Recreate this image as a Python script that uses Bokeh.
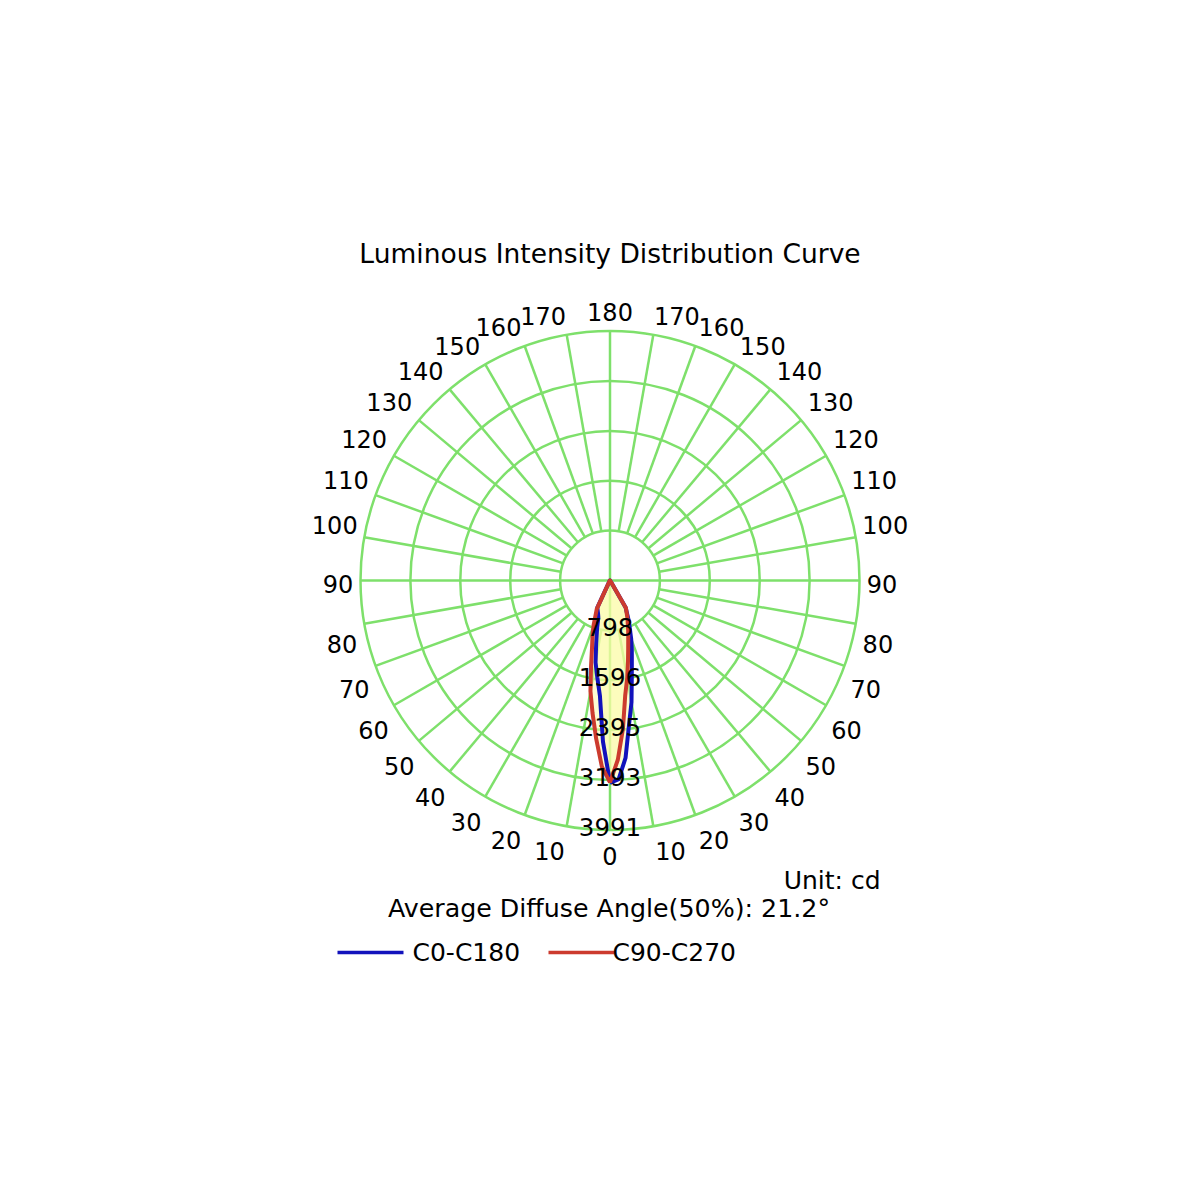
import numpy as np
from bokeh.plotting import figure
from bokeh.embed import file_html
from bokeh.resources import INLINE
from bokeh.core.properties import value

# ---------------- data ----------------
GAMMA = [0, 2.5, 5, 7.5, 10, 12.5, 15, 17.5, 20, 25, 30, 35, 40, 50, 60, 70, 80, 90, 120, 150, 180]
C0   = [3240, 3180, 2850, 2330, 1980, 1610, 1350, 1160, 990, 710, 500, 20, 12, 8, 5, 3, 2, 0, 0, 0, 0]
C180 = [3230, 2580, 1850, 1560, 1330, 1020, 800, 620, 560, 480, 30, 15, 10, 6, 4, 2, 1, 0, 0, 0, 0]
C90  = [3230, 2870, 2380, 1860, 1584, 1330, 1125, 970, 850, 660, 510, 20, 12, 8, 5, 3, 2, 0, 0, 0, 0]
C270 = [3230, 2980, 2540, 2140, 1800, 1400, 1110, 930, 770, 500, 30, 15, 10, 6, 4, 2, 1, 0, 0, 0, 0]
RING_VALUES = [798, 1596, 2395, 3193, 3991]
ANGLE_TICKS = list(range(0, 190, 10))
TITLE = "Luminous Intensity Distribution Curve"
UNIT = "Unit: cd"
DIFFUSE = "Average Diffuse Angle(50%): 21.2°"
SERIES = ["C0-C180", "C90-C270"]

# ---------------- style / layout ----------------
GREEN = "#7ee06b"
BLUE = "#1212bc"
RED = "#cc3b2e"
FILL = "#fbfba8"
FONT = value("DejaVu Sans")
R = 249.5
IMAX = RING_VALUES[-1]
W = H = 1184
OFF = 0.0
CX, CY = 609.5, 580.0


def rad(v):
    return np.asarray(v, dtype=float) / IMAX * R


p = figure(width=W, height=H, x_range=(OFF - CX, OFF + W - CX), y_range=(CY - OFF - H, CY - OFF),
           x_axis_type=None, y_axis_type=None, toolbar_location=None,
           output_backend="svg", min_border=0)
p.grid.visible = False
p.outline_line_color = None
p.background_fill_color = "white"
p.border_fill_color = "white"

# ---------------- polar grid ----------------
ring_r = rad(RING_VALUES)
p.circle(x=[0] * len(ring_r), y=[0] * len(ring_r), radius=list(ring_r),
         fill_color=None, line_color=GREEN, line_width=2.5)
sx, sy = [], []
for a in range(0, 360, 10):
    t = np.radians(a)
    r0 = 0.0 if a % 90 == 0 else ring_r[0]
    sx.append([r0 * np.sin(t), R * np.sin(t)])
    sy.append([-r0 * np.cos(t), -R * np.cos(t)])
p.multi_line(xs=sx, ys=sy, line_color=GREEN, line_width=2.5)

# ---------------- curves ----------------
g = np.radians(GAMMA)


def curve(right, left):
    rr, rl = rad(right), rad(left)
    x = np.concatenate([rr * np.sin(g), (-rl * np.sin(g))[::-1]])
    y = np.concatenate([-rr * np.cos(g), (-rl * np.cos(g))[::-1]])
    return x, y


bx, by = curve(C0, C180)
rx, ry = curve(C90, C270)
p.patch(bx, by, fill_color=FILL, fill_alpha=0.5, line_color=None)
p.patch(rx, ry, fill_color=FILL, fill_alpha=0.5, line_color=None)
p.line(np.append(bx, bx[0]), np.append(by, by[0]), line_color=BLUE, line_width=4, line_join="round")
p.line(np.append(rx, rx[0]), np.append(ry, ry[0]), line_color=RED, line_width=4, line_join="round")

# ---------------- angle labels ----------------
RL = 272.0
lx, ly, lt = [], [], []
for side in (-1, 1):
    for a in ANGLE_TICKS:
        if side == 1 and a in (0, 180):
            continue
        t = np.radians(a)
        x = side * RL * np.sin(t)
        y = -RL * np.cos(t)
        if a in (0, 180, 90):
            out, down = 0.0, 3.5
        elif a < 90:
            out = 14 * np.cos(t) ** 4
            down = 15 * np.sin(t) ** 2 + 2
        else:
            ph = np.radians(180 - a)
            out = 7 + 13 * np.cos(ph) ** 2
            down = 4 - 13 * np.sin(ph) ** 2
        lx.append(x + side * out)
        ly.append(y - down)
        lt.append(str(a))
p.text(x=lx, y=ly, text=lt, text_font=FONT, text_font_size=value("24px"),
       text_align="center", text_baseline="middle", text_color="black")

# ---------------- intensity labels ----------------
p.text(x=[0] * len(RING_VALUES), y=list(-ring_r + 3), text=[str(v) for v in RING_VALUES],
       text_font=FONT, text_font_size=value("24.5px"), text_align="center",
       text_baseline="alphabetic", text_color="black")

# ---------------- titles ----------------
p.text(x=[0], y=[CY - 253], text=[TITLE], text_font=FONT, text_font_size=value("26.5px"),
       text_align="center", text_baseline="middle", text_color="black")
p.text(x=[880 - CX], y=[CY - 880], text=[UNIT], text_font=FONT, text_font_size=value("25px"),
       text_align="right", text_baseline="middle", text_color="black")
p.text(x=[608.5 - CX], y=[CY - 908], text=[DIFFUSE], text_font=FONT, text_font_size=value("25.3px"),
       text_align="center", text_baseline="middle", text_color="black")

# ---------------- legend ----------------
LY = CY - 952
leg_x0 = [337 - CX, 548 - CX]
leg_len = 66
p.segment(x0=leg_x0, y0=[LY, LY], x1=[v + leg_len for v in leg_x0], y1=[LY, LY],
          line_color=[BLUE, RED], line_width=3.5)
p.text(x=[412 - CX, 612 - CX], y=[LY, LY], text=SERIES, text_font=FONT,
       text_font_size=value("25px"), text_align="left", text_baseline="middle", text_color="black")

open("out.html", "w").write(file_html(p, INLINE))
